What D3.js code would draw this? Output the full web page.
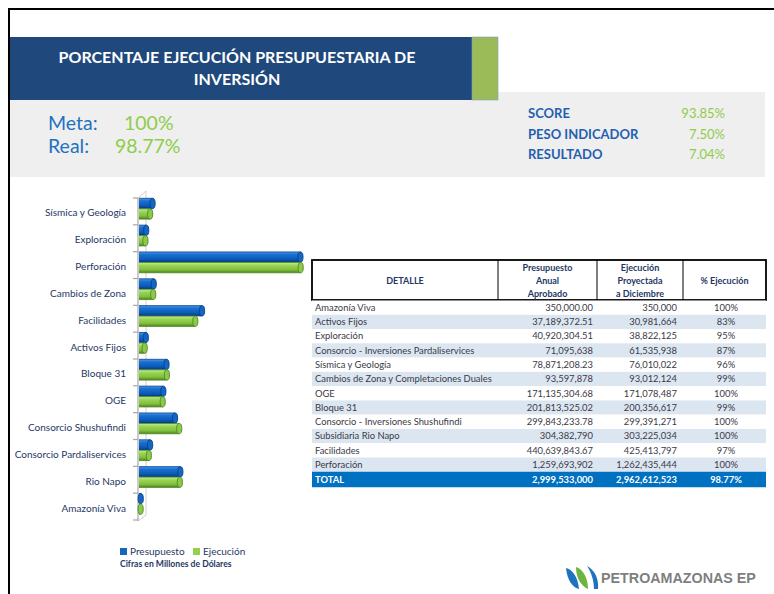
<!DOCTYPE html>
<html>
<head>
<meta charset="utf-8">
<script src="https://cdn.jsdelivr.net/npm/d3@7"></script>
<style>
  body { margin: 0; background: #fff; }
  svg { display: block; font-family: Lato, "Open Sans", sans-serif; }
</style>
</head>
<body>
<div id="graph1"></div>
<script>
var width = 774,
    height = 594;

// chart values (millions of dollars)
var chartCats = ["Sísmica y Geología", "Exploración", "Perforación", "Cambios de Zona", "Facilidades",
  "Activos Fijos", "Bloque 31", "OGE", "Consorcio Shushufindi", "Consorcio Pardaliservices",
  "Rio Napo", "Amazonía Viva"];
var chartPresupuesto = [95, 45, 1260, 104, 485, 42, 205, 180, 272, 76, 314, 2];
var chartEjecucion = [76, 39, 1262, 100, 432, 33, 208, 175, 305, 66, 310, 1];

// table
var tableDetalle = ["Amazonía Viva", "Activos Fijos", "Exploración", "Consorcio - Inversiones Pardaliservices",
  "Sísmica y Geología", "Cambios de Zona y Completaciones Duales", "OGE", "Bloque 31",
  "Consorcio - Inversiones Shushufindi", "Subsidiaria Rio Napo", "Facilidades", "Perforación"];
var tablePresupuesto = ["350,000.00", "37,189,372.51", "40,920,304.51", "71,095,638", "78,871,208.23",
  "93,597,878", "171,135,304.68", "201,813,525.02", "299,843,233.78", "304,382,790",
  "440,639,843.67", "1,259,693,902"];
var tableEjecucion = ["350,000", "30,981,664", "38,822,125", "61,535,938", "76,010,022", "93,012,124",
  "171,078,487", "200,356,617", "299,391,271", "303,225,034", "425,413,797", "1,262,435,444"];
var tablePct = ["100%", "83%", "95%", "87%", "96%", "99%", "100%", "99%", "100%", "100%", "97%", "100%"];
var totalRow = ["TOTAL", "2,999,533,000", "2,962,612,523", "98.77%"];

var kpiLeftLabels = ["Meta:", "Real:"];
var kpiLeftValues = ["100%", "98.77%"];
var kpiRightLabels = ["SCORE", "PESO INDICADOR", "RESULTADO"];
var kpiRightValues = ["93.85%", "7.50%", "7.04%"];

var svg = d3.select("#graph1").append("svg")
  .attr("width", width)
  .attr("height", height);

var defs = svg.append("defs");
function grad(id, stops) {
  var g = defs.append("linearGradient").attr("id", id)
    .attr("x1", 0).attr("y1", 0).attr("x2", 0).attr("y2", 1);
  stops.forEach(function(s) {
    g.append("stop").attr("offset", s[0]).attr("stop-color", s[1]);
  });
}
grad("gBlue", [[0, "#4a9be8"], [0.25, "#1a70d0"], [0.7, "#0b5bb8"], [1, "#053a80"]]);
grad("gGreen", [[0, "#c4ec8e"], [0.3, "#98d455"], [0.7, "#80c03c"], [1, "#4f8020"]]);

// frame
svg.append("path").attr("d", "M9,594V9H774").attr("fill", "none").attr("stroke", "#000").attr("stroke-width", 2);

// gray band and title
svg.append("rect").attr("x", 10).attr("y", 92).attr("width", 755).attr("height", 85).attr("fill", "#efefef");
svg.append("rect").attr("x", 10).attr("y", 37).attr("width", 462).attr("height", 63).attr("fill", "#1f497d");
svg.append("rect").attr("x", 472).attr("y", 37).attr("width", 26).attr("height", 63).attr("fill", "#9bbb59")
  .attr("stroke", "#7f9fc8").attr("stroke-width", 0.6);
svg.append("text").attr("x", 237).attr("y", 63).attr("text-anchor", "middle")
  .attr("fill", "#fff").attr("font-weight", "bold").attr("font-size", 16)
  .text("PORCENTAJE EJECUCIÓN PRESUPUESTARIA DE");
svg.append("text").attr("x", 237).attr("y", 85).attr("text-anchor", "middle")
  .attr("fill", "#fff").attr("font-weight", "bold").attr("font-size", 16)
  .text("INVERSIÓN");

kpiLeftLabels.forEach(function(l, i) {
  svg.append("text").attr("x", 48).attr("y", 130 + i * 23).attr("font-size", 19.5)
    .attr("fill", "#1f72c0").text(l);
  svg.append("text").attr("x", i === 0 ? 124 : 115).attr("y", 130 + i * 23).attr("font-size", 19.5)
    .attr("fill", "#8fcc4a").text(kpiLeftValues[i]);
});
kpiRightLabels.forEach(function(l, i) {
  svg.append("text").attr("x", 528).attr("y", 118 + i * 20.5).attr("font-size", 13)
    .attr("font-weight", "bold").attr("fill", "#1f60b0").text(l);
  svg.append("text").attr("x", 725).attr("y", 118 + i * 20.5).attr("font-size", 13)
    .attr("text-anchor", "end").attr("fill", "#8fcc4a").text(kpiRightValues[i]);
});

// bar chart
var x = d3.scaleLinear().domain([0, 1300]).range([140.5, 305.5]);
var y = d3.scaleBand().domain(chartCats).range([198, 520]);
var bh = 10.3;

var chartG = svg.append("g");
// 3D wall edges
chartG.append("path").attr("d", "M138,198L146,191V515L138,521")
  .attr("fill", "none").attr("stroke", "#d0d0d0").attr("stroke-width", 1);
chartG.append("line").attr("x1", 138).attr("x2", 138).attr("y1", 198).attr("y2", 521)
  .attr("stroke", "#a6a6a6").attr("stroke-width", 1.2);
var ticks = chartCats.map(function(c) { return y(c); }).concat([520]);
chartG.selectAll(".tick").data(ticks).enter().append("line")
  .attr("x1", 133).attr("x2", 138).attr("y1", function(d) { return d; }).attr("y2", function(d) { return d; })
  .attr("stroke", "#a6a6a6").attr("stroke-width", 1.2);

chartG.selectAll(".lbl").data(chartCats).enter().append("text")
  .attr("x", 126).attr("y", function(d) { return y(d) + y.bandwidth() / 2 + 1.5; })
  .attr("dy", "0.35em").attr("text-anchor", "end")
  .attr("font-size", 10).attr("fill", "#1f3864").text(function(d) { return d; });

function cylinders(values, offset, fill, rim, cap) {
  var g = chartG.append("g");
  values.forEach(function(v, i) {
    var c = chartCats[i];
    var top = y(c) + offset;
    var xe = x(v);
    g.append("rect").attr("x", 139).attr("y", top).attr("width", Math.max(0, xe - 139)).attr("height", bh)
      .attr("fill", "url(#" + fill + ")");
    g.append("path").attr("d", "M139," + top + "H" + xe + "M139," + (top + bh) + "H" + xe)
      .attr("stroke", rim).attr("stroke-width", 0.8).attr("fill", "none");
    g.append("ellipse").attr("cx", xe).attr("cy", top + bh / 2).attr("rx", 2.6).attr("ry", bh / 2)
      .attr("fill", cap).attr("stroke", rim).attr("stroke-width", 0.9);
  });
}
cylinders(chartPresupuesto, 0.3, "gBlue", "#063f8a", "#1466c4");
cylinders(chartEjecucion, 10.8, "gGreen", "#4f8a22", "#8cc84a");

// legend
svg.append("rect").attr("x", 120).attr("y", 548).attr("width", 7).attr("height", 7).attr("fill", "#1565c0");
svg.append("text").attr("x", 130).attr("y", 555).attr("font-size", 10).attr("fill", "#1f3864").text("Presupuesto");
svg.append("rect").attr("x", 193).attr("y", 548).attr("width", 7).attr("height", 7).attr("fill", "#92d050");
svg.append("text").attr("x", 203).attr("y", 555).attr("font-size", 10).attr("fill", "#1f3864").text("Ejecución");
svg.append("text").attr("x", 120).attr("y", 567).attr("font-size", 8.6).attr("font-weight", "bold")
  .attr("fill", "#1f3864").text("Cifras en Millones de Dólares");

// table
var colX = [312, 498, 597, 683, 766];
var tHead = svg.append("g");
tHead.append("rect").attr("x", colX[0]).attr("y", 260).attr("width", colX[4] - colX[0]).attr("height", 40)
  .attr("fill", "#fff").attr("stroke", "#000").attr("stroke-width", 1.8);
[1, 2, 3].forEach(function(k) {
  tHead.append("line").attr("x1", colX[k]).attr("x2", colX[k]).attr("y1", 260).attr("y2", 300)
    .attr("stroke", "#000").attr("stroke-width", 1);
});
var headers = [["DETALLE"], ["Presupuesto", "Anual", "Aprobado"], ["Ejecución", "Proyectada", "a Diciembre"], ["% Ejecución"]];
headers.forEach(function(h, k) {
  var cx = (colX[k] + colX[k + 1]) / 2;
  h.forEach(function(line, j) {
    var yy = h.length === 1 ? 284 : 271 + j * 13;
    tHead.append("text").attr("x", cx).attr("y", yy).attr("text-anchor", "middle")
      .attr("font-size", 9).attr("font-weight", "bold").attr("fill", "#1f3864").text(line);
  });
});

var rowH = 14.27, row0 = 300.5;
var rows = svg.append("g").selectAll("g").data(tableDetalle).enter().append("g")
  .attr("transform", function(d, i) { return "translate(0," + (row0 + i * rowH) + ")"; });
rows.append("rect").attr("x", colX[0]).attr("y", 0).attr("width", colX[4] - colX[0]).attr("height", rowH)
  .attr("fill", function(d, i) { return i % 2 ? "#dce6f1" : "#fff"; });
rows.append("text").attr("x", 315).attr("y", rowH / 2).attr("dy", "0.35em")
  .attr("font-size", 9.4).attr("fill", "#3a3a46").text(function(d) { return d; });
rows.append("text").attr("x", 593).attr("y", rowH / 2).attr("dy", "0.35em").attr("text-anchor", "end")
  .attr("font-size", 9.4).attr("fill", "#3a3a46").text(function(d, i) { return tablePresupuesto[i]; });
rows.append("text").attr("x", 677).attr("y", rowH / 2).attr("dy", "0.35em").attr("text-anchor", "end")
  .attr("font-size", 9.4).attr("fill", "#3a3a46").text(function(d, i) { return tableEjecucion[i]; });
rows.append("text").attr("x", 726).attr("y", rowH / 2).attr("dy", "0.35em").attr("text-anchor", "middle")
  .attr("font-size", 9.4).attr("fill", "#3a3a46").text(function(d, i) { return tablePct[i]; });

var totY = row0 + tableDetalle.length * rowH;
var tot = svg.append("g").attr("transform", "translate(0," + totY + ")");
tot.append("rect").attr("x", colX[0]).attr("y", 0).attr("width", colX[4] - colX[0]).attr("height", 15.5)
  .attr("fill", "#0070c0");
var totPos = [[315, "start"], [593, "end"], [677, "end"], [726, "middle"]];
totalRow.forEach(function(t, k) {
  tot.append("text").attr("x", totPos[k][0]).attr("y", 8).attr("dy", "0.35em")
    .attr("text-anchor", totPos[k][1]).attr("font-size", 9.4).attr("font-weight", "bold")
    .attr("fill", "#fff").text(t);
});

// logo
var logo = svg.append("g");
logo.append("path").attr("d", "M566,568C572,569 578,577 579,589C573,588 567,580 566,568Z").attr("fill", "#1f72c0");
logo.append("path").attr("d", "M576,567C583,569 588,578 588,589C581,586 576,578 576,567Z").attr("fill", "#6cb33f");
logo.append("path").attr("d", "M587,566C595,570 599,579 598,589L594,589C594,580 591,572 587,566Z").attr("fill", "#1f72c0");
logo.append("text").attr("x", 601).attr("y", 583).attr("font-family", "Liberation Sans, Arial, sans-serif")
  .attr("font-size", 14.3).attr("font-weight", "bold").attr("fill", "#7f7f7f").text("PETROAMAZONAS EP");
</script>
</body>
</html>
